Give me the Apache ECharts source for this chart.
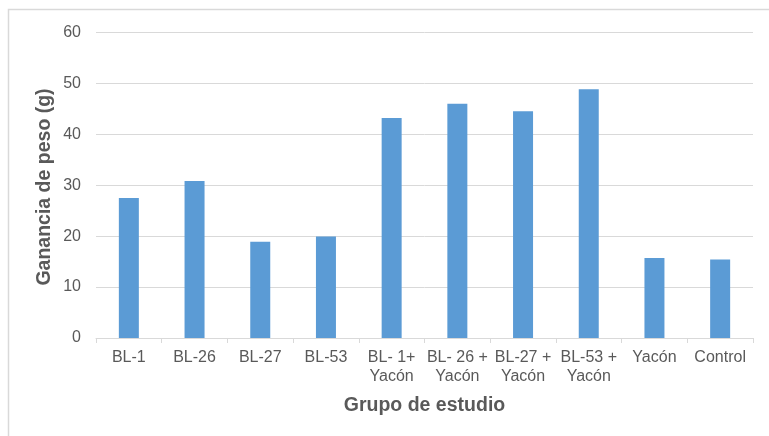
<!DOCTYPE html>
<html><head><meta charset="utf-8">
<script src="https://cdn.jsdelivr.net/npm/echarts@6/dist/echarts.min.js"></script>
<style>html,body{margin:0;padding:0;background:#fff}#c{width:769px;height:436px}</style>
</head><body><div id="c"></div>
<script>
const categories = ['BL-1','BL-26','BL-27','BL-53','BL- 1+\nYacón','BL- 26 +\nYacón','BL-27 +\nYacón','BL-53 +\nYacón','Yacón','Control'];
const gananciaPeso = [27.5, 30.8, 18.9, 19.9, 43.2, 46.0, 44.5, 48.8, 15.7, 15.4];
const yTicks = [0, 10, 20, 30, 40, 50, 60];
const yTitle = 'Ganancia de peso (g)';
const xTitle = 'Grupo de estudio';

const chart = echarts.init(document.getElementById('c'), null, {renderer:'canvas'});
chart.setOption({
  animation: false,
  textStyle: {fontFamily: 'Liberation Sans, Arial, sans-serif'},
  graphic: [
    {type:'rect', shape:{x:8.5,y:9.5,width:780,height:450}, style:{fill:'none', stroke:'#d9d9d9', lineWidth:1.5}, silent:true},
    {type:'text', x:45, y:187, rotation: Math.PI/2, silent:true,
     style:{text: yTitle, fill:'#595959', font:'bold 19.5px "Liberation Sans", Arial, sans-serif', align:'center', verticalAlign:'middle'}}
  ],
  grid: {left: 96, right: 16, top: 32.3, bottom: 98},
  xAxis: {
    type: 'category', data: categories,
    axisLine: {lineStyle: {color: '#d9d9d9', width: 1}},
    axisTick: {show: true, length: 5, lineStyle: {color: '#d9d9d9'}},
    axisLabel: {color: '#595959', fontSize: 16, lineHeight: 19, margin: 10, interval: 0},
    name: xTitle, nameLocation: 'middle', nameGap: 58,
    nameTextStyle: {color: '#595959', fontSize: 19.5, fontWeight: 'bold'}
  },
  yAxis: {
    type: 'value', min: yTicks[0], max: yTicks[yTicks.length-1], interval: 10,
    axisLine: {show: false}, axisTick: {show: false},
    splitLine: {lineStyle: {color: '#d9d9d9', width: 1}},
    axisLabel: {color: '#595959', fontSize: 16, margin: 15}
  },
  series: [{
    type: 'bar', data: gananciaPeso, barWidth: 20,
    itemStyle: {color: '#5b9bd5'}
  }]
});
</script></body></html>
